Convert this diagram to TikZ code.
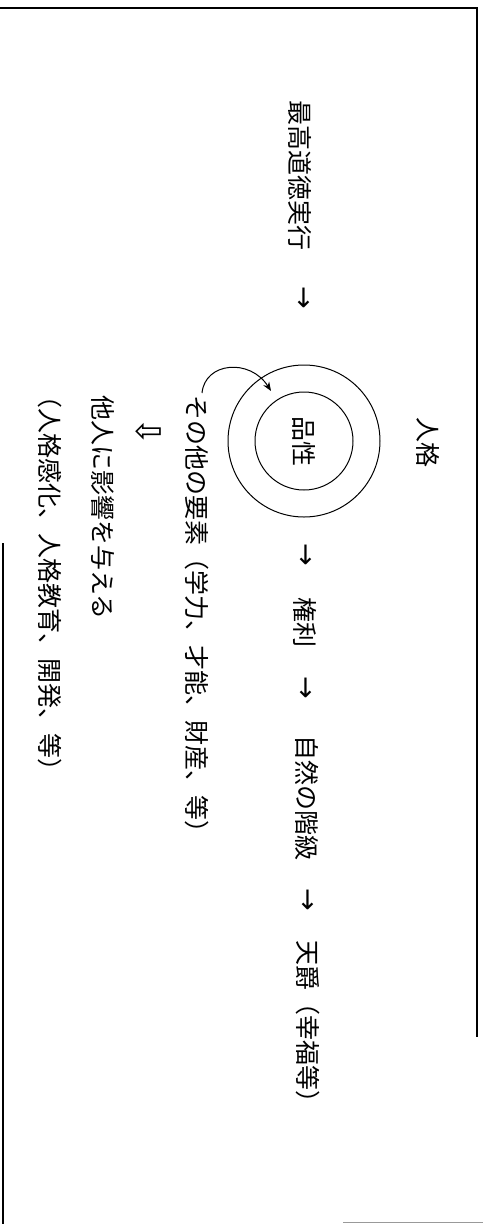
\documentclass[tikz,border=0pt]{standalone}
\usepackage{fontspec}
\newfontfamily\jp{Noto Sans CJK JP}
\newfontfamily\sym{DejaVu Sans}
\usetikzlibrary{arrows.meta}
\tikzset{
  txt/.style={rotate=-90, anchor=west, inner sep=0pt, font=\jp\fontsize{25}{25}\selectfont},
  arr/.style={rotate=-90, inner sep=0pt, font=\sym\fontsize{27}{27}\selectfont},
  frame/.style={line width=1.2pt, black},
  ring/.style={draw, circle, line width=1pt, inner sep=0pt},
}
\begin{document}
\begin{tikzpicture}[x=1pt,y=-1pt]
\useasboundingbox (0,0) rectangle (483,1224);
% frame
\draw[frame] (0,8) -- (477,8) -- (477,1037);
\draw[frame] (3,543) -- (3,1224);
\draw[line width=1pt, black!40] (343,1222) -- (483,1222);
% rings
\node[ring, minimum size=152pt] (outer) at (304,441) {};
\node[ring, minimum size=98pt] (inner) at (304,441) {};
% main column
\node[txt] (saikou) at (300,100) {最高道徳実行};
\node[arr] (a1) at (303,298) {→};
\node[rotate=-90, inner sep=0pt, font=\jp\fontsize{25}{25}\selectfont] (hinsei) at (304,441) {品性};
\node[txt] (jinkaku) at (428,417) {人格};
\node[arr] (a2) at (305,555) {→};
\node[txt] (kenri) at (305,597) {権利};
\node[arr] (a3) at (305,688) {→};
\node[txt] (shizen) at (307,735) {自然の階級};
\node[arr] (a4) at (307,900) {→};
\node[txt] (tenshaku) at (308,940) {天爵（幸福等）};
% lower lines
\node[txt] (sonota) at (197,395) {その他の要素（学力、才能、財産、等）};
\node[rotate=-90, inner sep=0pt, font=\sym\fontsize{34}{34}\selectfont] (a5) at (148,432) {⇩};
\node[txt] (tanin) at (103,395) {他人に影響を与える};
\node[txt] (kanka) at (50,383) {（人格感化、人格教育、開発、等）};
% curved arrow
\coordinate (cs) at (202,393);
\coordinate (ce) at (271,391);
\draw[line width=1pt, -{Stealth[length=9pt,width=7pt]}] (cs) .. controls (205,362) and (250,358) .. (ce);
\end{tikzpicture}
\end{document}
